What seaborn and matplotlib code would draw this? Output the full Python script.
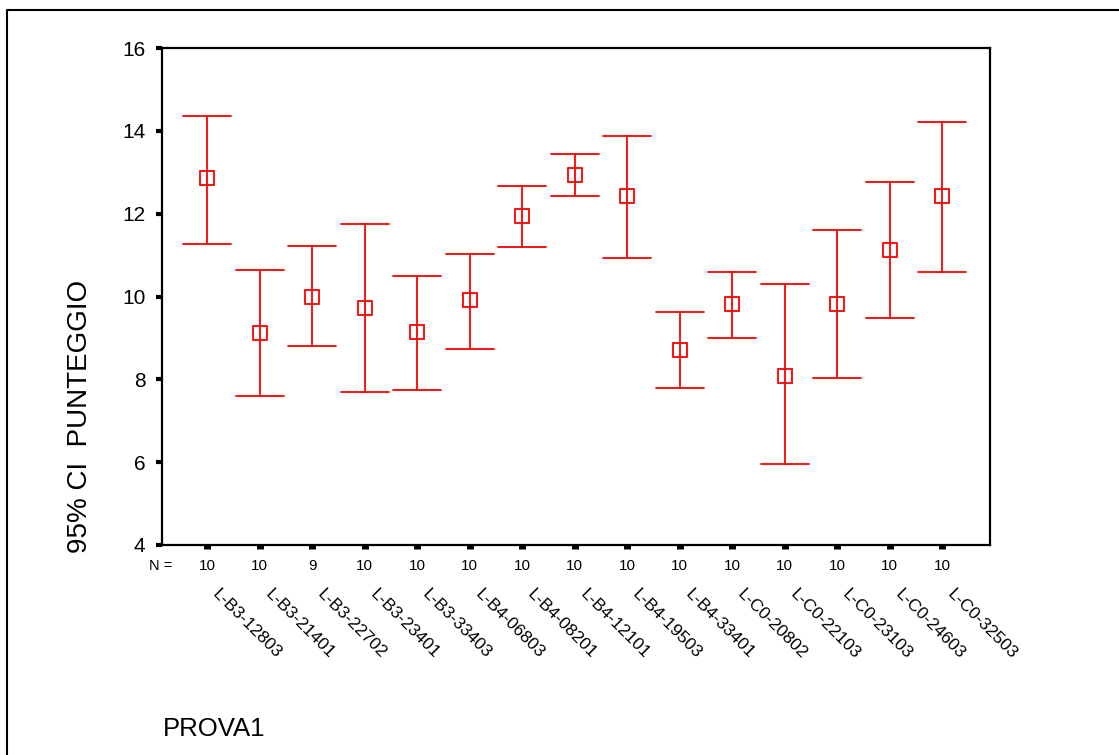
import matplotlib
matplotlib.use("Agg")
import matplotlib.pyplot as plt
import matplotlib.transforms as mtransforms
from matplotlib.lines import Line2D
import pandas as pd
import seaborn as sns

# Groups, sample sizes and 95% CI summary (lower, mean, upper)
groups = ["L-B3-12803", "L-B3-21401", "L-B3-22702", "L-B3-23401", "L-B3-33403",
          "L-B4-06803", "L-B4-08201", "L-B4-12101", "L-B4-19503", "L-B4-33401",
          "L-C0-20802", "L-C0-22103", "L-C0-23103", "L-C0-24603", "L-C0-32503"]
counts = [10, 10, 9, 10, 10, 10, 10, 10, 10, 10, 10, 10, 10, 10, 10]
means = [12.85, 9.13, 10.0, 9.72, 9.14, 9.91, 11.94, 12.93, 12.43, 8.70,
         9.81, 8.08, 9.81, 11.12, 12.42]
ci_low = [11.26, 7.60, 8.80, 7.69, 7.74, 8.74, 11.20, 12.42, 10.92, 7.78,
          8.99, 5.96, 8.03, 9.47, 10.58]
ci_high = [14.36, 10.63, 11.22, 11.75, 10.49, 11.02, 12.66, 13.43, 13.87, 9.62,
           10.58, 10.30, 11.60, 12.76, 14.21]

# Long table: each group gets its lower bound, mean and upper bound, so the
# median is the mean and (min, max) is the interval
rows = []
for g, lo, m, hi in zip(groups, ci_low, means, ci_high):
    for v in (lo, m, hi):
        rows.append({"PROVA1": g, "PUNTEGGIO": v})
df = pd.DataFrame(rows)

sns.set_style("white")
plt.rcParams["font.family"] = ["Liberation Sans", "DejaVu Sans"]
plt.rcParams["text.color"] = "black"
plt.rcParams["xtick.color"] = "black"
plt.rcParams["ytick.color"] = "black"
plt.rcParams["axes.labelcolor"] = "black"

fig = plt.figure(figsize=(11.19, 7.55), dpi=100)
ax = fig.add_axes([162 / 1119, 1 - 545 / 755, 828 / 1119, 497 / 755])

sns.pointplot(
    data=df,
    x="PROVA1",
    y="PUNTEGGIO",
    order=groups,
    estimator="median",
    errorbar=lambda v: (v.min(), v.max()),
    color="#ff0000",
    linestyle="none",
    marker="s",
    markersize=10,
    markerfacecolor="none",
    markeredgewidth=1.3,
    capsize=0.92,
    err_kws={"linewidth": 1.3},
    ax=ax,
)

ax.set_ylim(4, 16)
ax.set_yticks([4, 6, 8, 10, 12, 14, 16])
ax.set_xlim(-0.86, 14.91)
ax.set_xlabel("")
ax.set_ylabel("")
ax.set_xticklabels([])

for side in ["left", "right", "top", "bottom"]:
    ax.spines[side].set_visible(True)
    ax.spines[side].set_color("black")
    ax.spines[side].set_linewidth(1.6)

ax.tick_params(axis="y", direction="out", length=4, width=3, pad=8,
               labelsize=15, labelcolor="black", left=True)
ax.tick_params(axis="x", direction="out", length=3, width=5, bottom=True)

# N = row and rotated group names under the axis
count_tr = mtransforms.offset_copy(ax.get_xaxis_transform(), fig=fig,
                                   x=0, y=-21, units="dots")
name_tr = mtransforms.offset_copy(ax.get_xaxis_transform(), fig=fig,
                                  x=13, y=-42, units="dots")
for i, (g, n) in enumerate(zip(groups, counts)):
    ax.text(i, 0, str(n), transform=count_tr, ha="center", va="center",
            fontsize=11, color="black")
    ax.text(i, 0, g, transform=name_tr, ha="left", va="top", rotation=-45,
            rotation_mode="anchor", fontsize=12.5, color="black")

fig.text(172 / 1119, 1 - 566 / 755, "N =", ha="right", va="center",
         fontsize=10.5, color="black")
fig.text(80 / 1119, 1 - 553 / 755, "95% CI  PUNTEGGIO", rotation=90,
         ha="center", va="bottom", fontsize=20, color="black")
fig.text(163 / 1119, 1 - 729 / 755, "PROVA1", ha="left", va="center",
         fontsize=18.5, color="black")

# outer frame (left and top edges are visible)
fx = 7 / 1119
fy = 1 - 10 / 755
fig.add_artist(Line2D([fx, fx, 1], [0, fy, fy], transform=fig.transFigure,
                      color="black", linewidth=1.5))

fig.savefig("out.png", dpi=100)
plt.close(fig)
